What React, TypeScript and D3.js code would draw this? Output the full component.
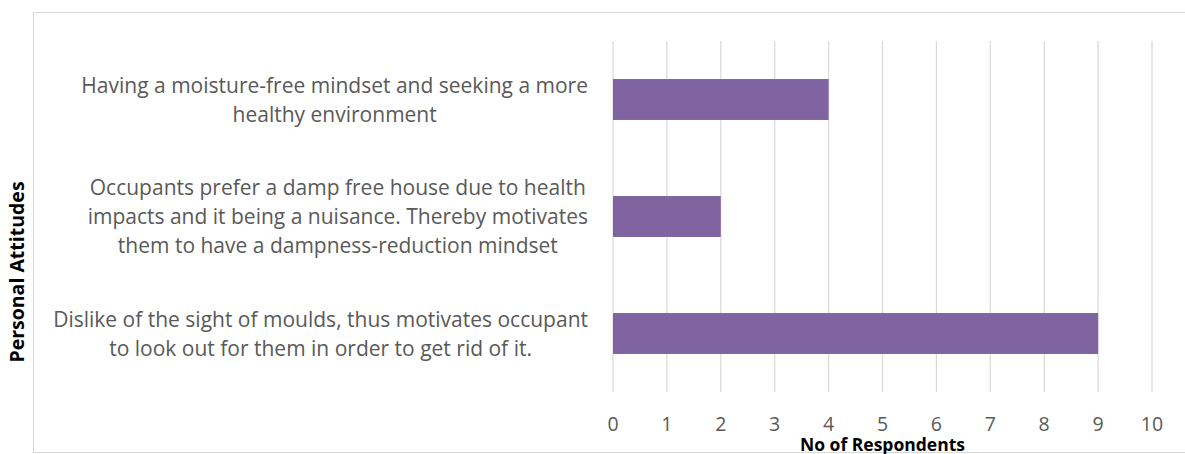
import React, { useRef, useEffect } from "react";
import * as d3 from "d3";

const categories = [
  ["Having a moisture-free mindset and seeking a more", "healthy environment"],
  [
    "Occupants prefer a damp free house due to health",
    "impacts and it being a nuisance. Thereby motivates",
    "them to have a dampness-reduction mindset",
  ],
  [
    "Dislike of the sight of moulds, thus motivates occupant",
    "to look out for them in order to get rid of it.",
  ],
];
const values = [4, 2, 9];
const ticks = [0, 1, 2, 3, 4, 5, 6, 7, 8, 9, 10];

const W = 1185;
const H = 454;
const FONT = "'Open Sans', sans-serif";

export default function App() {
  const ref = useRef<SVGSVGElement>(null);

  useEffect(() => {
    const svg = d3.select(ref.current);
    svg.selectAll("*").remove();

    const x = d3.scaleLinear().domain([0, 10]).range([613, 1152]);
    const y = d3
      .scaleBand<number>()
      .domain(categories.map((_, i) => i))
      .range([41, 392])
      .paddingInner(0.65)
      .paddingOuter(0.325);

    svg
      .append("rect")
      .attr("x", 33.5)
      .attr("y", 12.5)
      .attr("width", W)
      .attr("height", 440)
      .attr("fill", "#fff")
      .attr("stroke", "#d9d9d9");

    svg
      .append("g")
      .selectAll("line")
      .data(ticks)
      .join("line")
      .attr("x1", (d) => x(d))
      .attr("x2", (d) => x(d))
      .attr("y1", 41)
      .attr("y2", 392)
      .attr("stroke", "#d9d9d9")
      .attr("stroke-width", 1.2);

    svg
      .append("g")
      .selectAll("rect")
      .data(values)
      .join("rect")
      .attr("x", x(0))
      .attr("y", (_, i) => y(i)!)
      .attr("width", (d) => x(d) - x(0))
      .attr("height", y.bandwidth())
      .attr("fill", "#8064A2");

    svg
      .append("g")
      .selectAll("text")
      .data(ticks)
      .join("text")
      .attr("x", (d) => x(d))
      .attr("y", 431)
      .attr("text-anchor", "middle")
      .attr("font-family", FONT)
      .attr("font-size", 19.5)
      .attr("fill", "#595959")
      .text((d) => d);

    const lineH = 29;
    const right = 588;
    categories.forEach((lines, i) => {
      const cy = y(i)! + y.bandwidth() / 2;
      const g = svg.append("g");
      const texts = g
        .selectAll("text")
        .data(lines)
        .join("text")
        .attr("y", (_, j) => cy + (j - (lines.length - 1) / 2) * lineH + 7.5)
        .attr("text-anchor", "middle")
        .attr("font-family", FONT)
        .attr("font-size", 21)
        .attr("fill", "#595959")
        .text((d) => d);
      let maxW = 0;
      texts.each(function () {
        maxW = Math.max(maxW, (this as SVGTextElement).getComputedTextLength());
      });
      texts.attr("x", right - maxW / 2);
    });

    svg
      .append("text")
      .attr("x", (x(0) + x(10)) / 2)
      .attr("y", 451)
      .attr("text-anchor", "middle")
      .attr("font-family", FONT)
      .attr("font-weight", "bold")
      .attr("font-size", 17.5)
      .attr("fill", "#000")
      .text("No of Respondents");

    svg
      .append("text")
      .attr("transform", "translate(24,272) rotate(-90)")
      .attr("text-anchor", "middle")
      .attr("font-family", FONT)
      .attr("font-weight", "bold")
      .attr("font-size", 19.5)
      .attr("fill", "#000")
      .text("Personal Attitudes");
  }, []);

  return (
    <svg
      ref={ref}
      width={W}
      height={H}
      style={{ position: "absolute", left: 0, top: 0 }}
    />
  );
}
